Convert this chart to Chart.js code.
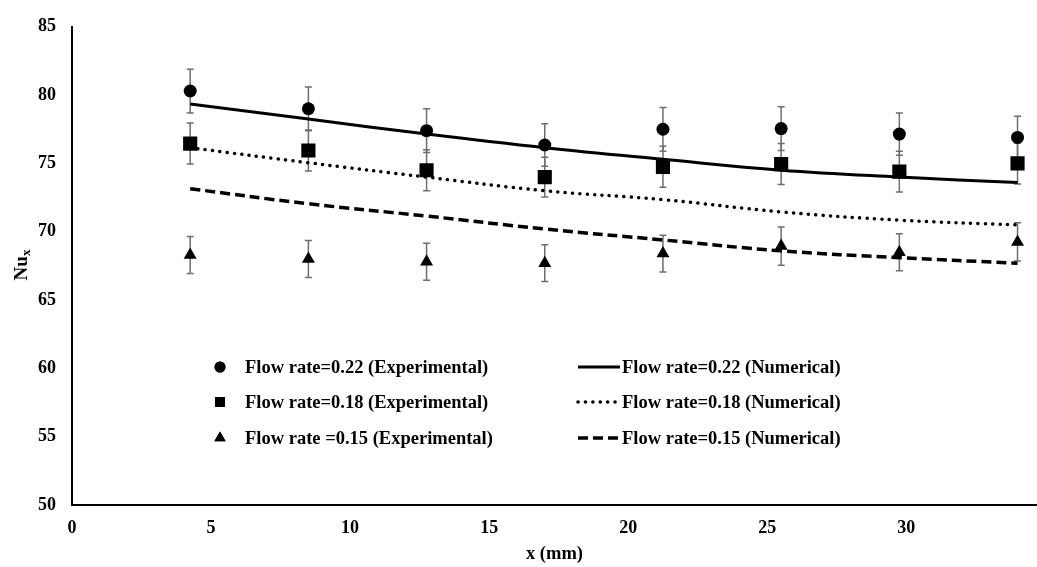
<!DOCTYPE html>
<html>
<head>
<meta charset="utf-8">
<script src="https://cdn.jsdelivr.net/npm/chart.js@4.4.0/dist/chart.umd.min.js"></script>
<style>
  html, body { margin: 0; background: #fff; overflow: hidden; }
  canvas { display: block; }
</style>
</head>
<body>
<canvas id="myChart" width="1037" height="567"></canvas>
<script>
// positions along the channel (mm)
var xPos = [4.25, 8.5, 12.75, 17, 21.25, 25.5, 29.75, 34];

// experimental Nu_x and error bars
var exp22 = [80.3, 79.0, 77.4, 76.35, 77.5, 77.55, 77.15, 76.9];
var exp18 = [76.45, 75.95, 74.5, 74.0, 74.75, 74.95, 74.4, 75.0];
var exp15 = [68.3, 68.0, 67.8, 67.7, 68.4, 68.95, 68.5, 69.25];
var err22 = [1.6, 1.6, 1.6, 1.55, 1.6, 1.6, 1.55, 1.55];
var err18 = [1.5, 1.5, 1.5, 1.45, 1.5, 1.5, 1.5, 1.5];
var err15 = [1.35, 1.35, 1.35, 1.35, 1.35, 1.4, 1.35, 1.4];

// numerical curves
var num22 = [79.35, 78.25, 77.15, 76.15, 75.3, 74.5, 74.0, 73.6];
var num18 = [76.15, 75.05, 74.0, 73.0, 72.35, 71.45, 70.85, 70.5];
var num15 = [73.15, 72.05, 71.15, 70.2, 69.4, 68.6, 68.1, 67.7];

var yTicks = [50, 55, 60, 65, 70, 75, 80, 85];
var xTicks = [0, 5, 10, 15, 20, 25, 30];

var serif = '"Liberation Serif", "Times New Roman", serif';

function pts(vals) {
    return xPos.map(function (x, i) { return { x: x, y: vals[i] }; });
}

var expSet = function (label, vals, err, style, r) {
    return {
        label: label, data: pts(vals), errors: err, showLine: false,
        pointStyle: style, pointRadius: r, pointHoverRadius: r,
        backgroundColor: '#000', borderColor: '#000', borderWidth: 0, order: 0
    };
};
var numSet = function (label, vals, dash, cap, w) {
    return {
        label: label, data: pts(vals), showLine: true, pointRadius: 0,
        borderColor: '#000', borderWidth: w, borderDash: dash, borderCapStyle: cap,
        tension: 0.4, fill: false, order: 1
    };
};

var datasets = [
    expSet('Flow rate=0.22 (Experimental)', exp22, err22, 'circle', 6.5),
    expSet('Flow rate=0.18 (Experimental)', exp18, err18, 'rect', 10),
    expSet('Flow rate =0.15 (Experimental)', exp15, err15, 'triangle', 7.5),
    numSet('Flow rate=0.22 (Numerical)', num22, [], 'butt', 3),
    numSet('Flow rate=0.18 (Numerical)', num18, [0.1, 7.3], 'round', 3.5),
    numSet('Flow rate=0.15 (Numerical)', num15, [10, 5], 'butt', 3.5)
];

// grey error bars behind the markers
var errorBars = {
    id: 'errorBars',
    beforeDatasetsDraw: function (chart) {
        var ctx = chart.ctx, xs = chart.scales.x, ys = chart.scales.y;
        ctx.save();
        ctx.strokeStyle = '#6e6e6e';
        ctx.lineWidth = 1.5;
        chart.data.datasets.forEach(function (ds) {
            if (!ds.errors) return;
            ds.data.forEach(function (p, i) {
                var px = xs.getPixelForValue(p.x);
                var top = ys.getPixelForValue(p.y + ds.errors[i]);
                var bot = ys.getPixelForValue(p.y - ds.errors[i]);
                ctx.beginPath();
                ctx.moveTo(px, top); ctx.lineTo(px, bot);
                ctx.moveTo(px - 3.5, top); ctx.lineTo(px + 3.5, top);
                ctx.moveTo(px - 3.5, bot); ctx.lineTo(px + 3.5, bot);
                ctx.stroke();
            });
        });
        ctx.restore();
    }
};

// legend inside the plot and y title with subscript
var extras = {
    id: 'extras',
    afterDraw: function (chart) {
        var ctx = chart.ctx;
        var ds = chart.data.datasets;
        var rows = [367, 402, 438];
        ctx.save();
        ctx.fillStyle = '#000';
        ctx.strokeStyle = '#000';
        ctx.font = 'bold 18.5px ' + serif;
        ctx.textBaseline = 'middle';
        ctx.textAlign = 'left';
        for (var i = 0; i < 3; i++) {
            var e = ds[i], n = ds[i + 3], y = rows[i];
            var r = e.pointStyle === 'rect' ? 7 : (e.pointStyle === 'triangle' ? 6.5 : 5.5);
            Chart.helpers.drawPoint(ctx, { pointStyle: e.pointStyle, radius: r, borderWidth: 0 }, 220, y);
            ctx.fill();
            ctx.fillText(e.label, 245, y + 1);

            ctx.beginPath();
            ctx.lineWidth = n.borderWidth;
            ctx.setLineDash(n.borderDash);
            ctx.lineCap = n.borderCapStyle;
            ctx.moveTo(578, y); ctx.lineTo(620, y);
            ctx.stroke();
            ctx.setLineDash([]);
            ctx.lineCap = 'butt';
            ctx.fillText(n.label, 622, y + 1);
        }
        // y axis title: Nu with subscript x
        ctx.translate(22, 265);
        ctx.rotate(-Math.PI / 2);
        ctx.textAlign = 'left';
        ctx.font = 'bold 19px ' + serif;
        var w1 = ctx.measureText('Nu').width;
        ctx.font = 'bold 13px ' + serif;
        var w2 = ctx.measureText('x').width;
        var x0 = -(w1 + w2) / 2;
        ctx.font = 'bold 19px ' + serif;
        ctx.fillText('Nu', x0, 0);
        ctx.font = 'bold 13px ' + serif;
        ctx.fillText('x', x0 + w1, 5);
        ctx.restore();
    }
};

var ctx = document.getElementById('myChart').getContext('2d');
var myChart = new Chart(ctx, {
    type: 'scatter',
    data: { datasets: datasets },
    options: {
        responsive: false,
        animation: false,
        layout: { autoPadding: false, padding: { top: 21, right: 0, left: 0, bottom: 0 } },
        plugins: { legend: { display: false }, tooltip: { enabled: false } },
        scales: {
            x: {
                type: 'linear', min: 0, max: 34.7,
                afterBuildTicks: function (s) { s.ticks = xTicks.map(function (v) { return { value: v }; }); },
                afterFit: function (s) { s.height = 62; },
                grid: { display: false, drawTicks: false },
                border: { display: true, color: '#000', width: 2 },
                ticks: { color: '#000', padding: 13, font: { family: serif, size: 18, weight: 'bold' }, maxRotation: 0 },
                title: { display: true, text: 'x (mm)', color: '#000', padding: { top: 0, bottom: 2 },
                         font: { family: serif, size: 18.5, weight: 'bold' } }
            },
            y: {
                min: 50, max: 85,
                afterBuildTicks: function (s) { s.ticks = yTicks.map(function (v) { return { value: v }; }); },
                afterFit: function (s) { s.width = 72; },
                grid: { display: false, drawTicks: false },
                border: { display: true, color: '#000', width: 2 },
                ticks: { color: '#000', padding: 16, font: { family: serif, size: 18, weight: 'bold' } }
            }
        }
    },
    plugins: [errorBars, extras]
});
</script>
</body>
</html>
